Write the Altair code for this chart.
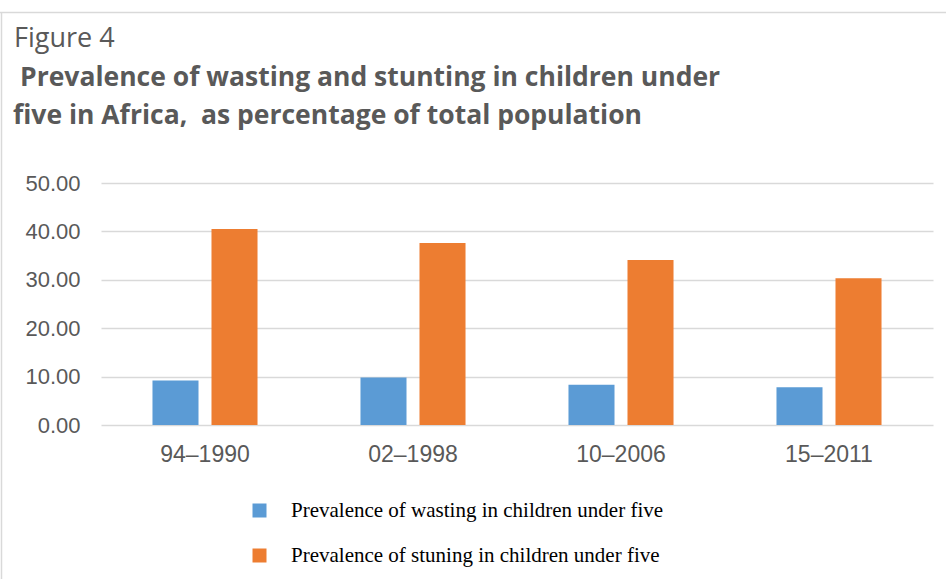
import altair as alt
import pandas as pd

# Survey periods and the two prevalence series (% of total population)
periods = ["94–1990", "02–1998", "10–2006", "15–2011"]
series_names = [
    "Prevalence of wasting in children under five",
    "Prevalence of stuning in children under five",
]
wasting = [9.2, 9.8, 8.3, 7.8]
stunting = [40.5, 37.6, 34.1, 30.3]
series_colors = ["#5B9BD5", "#ED7D31"]
y_ticks = [0, 10, 20, 30, 40, 50]

figure_label = "Figure 4"
title_lines = [
    "Prevalence of wasting and stunting in children under",
    "five in Africa,\u00a0 as percentage of total population",
]

rows = []
for i, p in enumerate(periods):
    rows.append({"period": p, "series": series_names[0], "value": wasting[i]})
    rows.append({"period": p, "series": series_names[1], "value": stunting[i]})
df = pd.DataFrame(rows)

W, H = 832, 242
GRID = "#d9d9d9"
TEXT = "#595959"

bars = alt.Chart(df).mark_bar().encode(
    x=alt.X(
        "period:N",
        sort=periods,
        scale=alt.Scale(paddingInner=0.495, paddingOuter=0.2475),
        axis=alt.Axis(
            title=None, labelAngle=0, labelFont="Liberation Sans", labelFontSize=23,
            labelColor=TEXT, labelPadding=18, labelBaseline="top",
            ticks=False, domain=False, grid=False,
        ),
    ),
    xOffset=alt.XOffset(
        "series:N", sort=series_names,
        scale=alt.Scale(paddingInner=0.22, paddingOuter=0),
    ),
    y=alt.Y(
        "value:Q",
        scale=alt.Scale(domain=[0, 50], nice=False),
        axis=alt.Axis(
            values=y_ticks, format=".2f", title=None, labelFont="Liberation Sans",
            labelFontSize=22, labelColor=TEXT, labelPadding=21,
            ticks=False, domain=False, grid=True, gridColor=GRID, gridWidth=1.5,
        ),
    ),
    color=alt.Color(
        "series:N",
        sort=series_names,
        scale=alt.Scale(domain=series_names, range=series_colors),
        legend=alt.Legend(
            title=None, orient="none", legendX=148, legendY=317,
            symbolType="square", symbolSize=196, symbolStrokeWidth=0, symbolOpacity=1,
            labelFont="Liberation Serif", labelFontSize=21, labelColor="black",
            labelOffset=21, rowPadding=23, padding=0, labelLimit=0,
        ),
    ),
)

one = pd.DataFrame({"k": [0]})

# Outer frame (top and left edges)
frame_top = alt.Chart(one).mark_rule(color=GRID, strokeWidth=1.5).encode(
    x=alt.value(-101), x2=alt.value(845), y=alt.value(-170.5)
)
frame_left = alt.Chart(one).mark_rule(color=GRID, strokeWidth=1.5).encode(
    x=alt.value(-99.5), y=alt.value(-171), y2=alt.value(400)
)

fig_text = alt.Chart(pd.DataFrame({"t": [figure_label]})).mark_text(
    font="Open Sans", fontSize=27, color=TEXT, align="left", baseline="alphabetic"
).encode(text="t:N", x=alt.value(-87), y=alt.value(-135.7))

line1 = alt.Chart(pd.DataFrame({"t": [title_lines[0]]})).mark_text(
    font="Open Sans", fontSize=26.5, fontWeight="bold", color=TEXT, align="left", baseline="alphabetic"
).encode(text="t:N", x=alt.value(-81), y=alt.value(-97))

line2 = alt.Chart(pd.DataFrame({"t": [title_lines[1]]})).mark_text(
    font="Open Sans", fontSize=26.5, fontWeight="bold", color=TEXT, align="left", baseline="alphabetic"
).encode(text="t:N", x=alt.value(-88), y=alt.value(-59))

chart = alt.layer(bars, frame_top, frame_left, fig_text, line1, line2).properties(
    width=W, height=H,
    autosize=alt.AutoSizeParams(type="none"),
    padding={"left": 101, "top": 183, "right": 13, "bottom": 154},
    background="white",
).configure_view(stroke=None)

chart.save("out.html", embed_options={"renderer": "svg", "actions": False})
